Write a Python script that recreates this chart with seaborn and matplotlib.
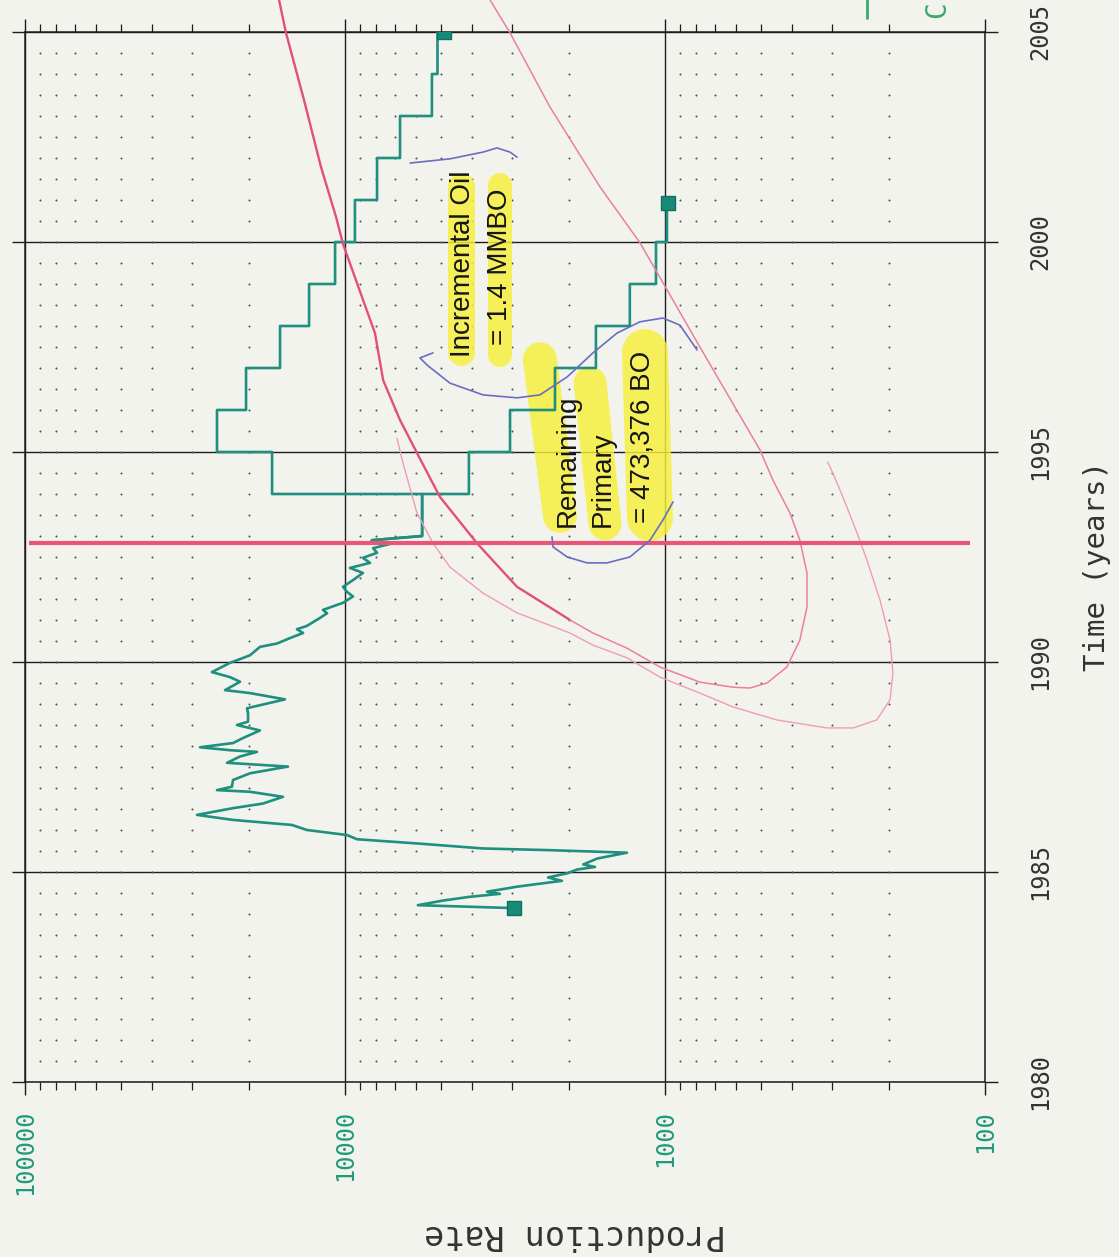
import numpy as np
import pandas as pd
import matplotlib
matplotlib.use("Agg")
import matplotlib.pyplot as plt
from matplotlib.lines import Line2D
from matplotlib.ticker import FixedLocator, NullFormatter
import seaborn as sns

# ---------------- data ----------------
# monthly oil production history (time in years, rate in BOPD)
hist_year = [1984.14, 1984.21, 1984.32, 1984.41, 1984.48, 1984.53, 1984.65, 1984.79,
             1984.87, 1984.97, 1985.06, 1985.12, 1985.18, 1985.32, 1985.46, 1985.52,
             1985.56, 1985.68, 1985.78, 1985.88, 1986.00, 1986.12, 1986.24, 1986.36,
             1986.52, 1986.63, 1986.79, 1986.91, 1986.95, 1987.03, 1987.19, 1987.35,
             1987.51, 1987.60, 1987.75, 1987.86, 1987.90, 1987.97, 1988.07, 1988.19,
             1988.37, 1988.50, 1988.58, 1988.77, 1988.90, 1989.11, 1989.26, 1989.33,
             1989.53, 1989.64, 1989.76, 1989.98, 1990.16, 1990.36, 1990.44, 1990.57,
             1990.69, 1990.78, 1990.86, 1991.05, 1991.16, 1991.24, 1991.41, 1991.56,
             1991.67, 1991.79, 1991.95, 1992.12, 1992.24, 1992.36, 1992.48, 1992.60,
             1992.71, 1992.81, 1992.90]
hist_rate = [2960, 5920, 4940, 4070, 3280, 3600, 2900, 2100,
             2320, 2020, 1880, 1655, 1800, 1630, 1315, 2290,
             3700, 5960, 9170, 9860, 13150, 14650, 22390, 29000,
             22390, 18040, 15620, 19810, 25120, 22560, 22390, 19810,
             15070, 23370, 21280, 18840, 22870, 28380, 22390, 20830,
             18440, 21760, 20090, 20090, 20230, 15400, 19810, 23710,
             21280, 22870, 26060, 22870, 19810, 18440, 16310, 14850,
             13520, 14130, 13150, 11970, 11380, 11720, 10140, 9440,
             9860, 10140, 9440, 8790, 9650, 8350, 8790, 7940,
             8170, 7240, 8240]

# annual forecast rates (waterflood case and primary case)
flood_years = [1993, 1994, 1995, 1996, 1997, 1998, 1999, 2000, 2001, 2002, 2003, 2004, 2005]
flood_rate = [5740, 16900, 25120, 20380, 15960, 12950, 10740, 9310, 7940, 6730, 5350, 5140]
primary_years = [1993, 1994, 1995, 1996, 1997, 1998, 1999, 2000, 2001]
primary_rate = [5740, 4100, 3050, 2207, 1644, 1288, 1067, 986]

# start / end markers
marker_year = [1984.14, 2005.0, 2000.93]
marker_rate = [2960, 4900, 980]

# hand-sketched decline curves
declA_main_year = [2005.76, 2004.98, 2003.38, 2001.79, 2000.60, 1999.95, 1999.02, 1997.83,
                   1996.71, 1995.76, 1994.98, 1993.93, 1992.83, 1991.79, 1991.00]
declA_main_rate = [16070, 15290, 13430, 11890, 10670, 10140, 9170, 8060,
                   7600, 6730, 5960, 5050, 3870, 2900, 1980]
declA_loop_year = [1991.00, 1990.69, 1990.33, 1989.88, 1989.52, 1989.40, 1989.38, 1989.50,
                   1989.88, 1990.52, 1991.31, 1992.12, 1992.90, 1993.55, 1994.33, 1995.05,
                   1997.50, 1999.98, 2001.31, 2003.21, 2004.98, 2005.76]
declA_loop_rate = [1980, 1679, 1315, 1037, 778, 613, 542, 480,
                   416, 379, 360, 360, 379, 407, 460, 505,
                   778, 1197, 1596, 2287, 3050, 3520]
declB_year = [1995.33, 1994.74, 1993.55, 1992.83, 1992.26, 1991.64, 1991.17, 1990.69,
              1990.40, 1990.10, 1989.64, 1989.26, 1988.93, 1988.62, 1988.43, 1988.43,
              1988.62, 1989.10, 1989.74, 1990.52, 1991.48, 1992.43, 1993.07, 1993.93,
              1994.50, 1994.76]
declB_rate = [6880, 6590, 5960, 5310, 4700, 3705, 2900, 1980,
              1679, 1315, 1037, 778, 613, 447, 312, 258,
              218, 198, 194, 198, 213, 234, 251, 278,
              299, 310]

# waterflood start date
flood_start = 1992.83
flood_line_rate = [97000, 111]

# pen marks around the notes
pen1_year = [2001.88, 2001.98, 2002.14, 2002.24, 2002.14, 2002.02]
pen1_rate = [6260, 4700, 3705, 3350, 3050, 2900]
pen2_year = [1997.36, 1997.24, 1997.07, 1996.64, 1996.36, 1996.29, 1996.36, 1996.79,
             1997.36, 1997.83, 1998.10, 1998.19, 1998.02, 1997.43]
pen2_rate = [5310, 5830, 5540, 4700, 3705, 2900, 2460, 2020,
             1679, 1413, 1197, 1015, 898, 794]
pen3_year = [1992.98, 1992.74, 1992.50, 1992.36, 1992.36, 1992.50, 1992.90, 1993.38, 1993.81]
pen3_rate = [2255, 2239, 2020, 1753, 1518, 1288, 1114, 1015, 944]

# highlighter strokes: (rate at start, year at start, rate at end, year at end, width px)
highlight_rate0 = [4325, 3280, 2460, 1715, 1155]
highlight_year0 = [1997.38, 1997.31, 1997.21, 1996.64, 1997.38]
highlight_rate1 = [4325, 3280, 2130, 1540, 1114]
highlight_year1 = [2001.33, 2001.36, 1993.48, 1993.29, 1993.43]
highlight_width = [27, 24, 34, 33, 46]

# notes: text, rate, year at the start of the text
note_text = ["Incremental Oil", "= 1.4 MMBO", "Remaining", "Primary", "= 473,376 BO"]
note_rate = [4280, 3280, 2010, 1563, 1172]
note_year = [1997.26, 1997.55, 1993.21, 1993.21, 1993.31]

rate_ticks = [100000, 10000, 1000, 100]
rate_tick_labels = ["100000", "10000", "1000", "100"]
year_ticks = [1980, 1985, 1990, 1995, 2000, 2005]
year_tick_labels = ["1980", "1985", "1990", "1995", "2000", "2005"]

# ---------------- style ----------------
PAPER = "#f3f3ee"
TEAL = "#1f8f7e"
PINK_DARK = "#e24f7b"
PINK_MID = "#ec7fa0"
PINK_LIGHT = "#f09cb6"
PEN = "#6b6dc2"
MONO = "DejaVu Sans Mono"

sns.set_theme(style="white")
plt.rcParams["font.family"] = ["DejaVu Sans", "DejaVu Sans Mono"]

fig = plt.figure(figsize=(11.19, 12.57), dpi=100, facecolor=PAPER)
ax = fig.add_axes([25 / 1119, 175 / 1257, 960 / 1119, 1050 / 1257])
ax.set_facecolor(PAPER)

ax.set_xscale("log")
ax.set_xlim(1e5, 1e2)
ax.set_ylim(1980, 2005)

# dotted background grid at minor rates and half years
minor_rates = [k * 10.0 ** e for e in (2, 3, 4) for k in range(2, 10)]
dot_years = np.arange(1980.5, 2005.0, 0.5)
gx, gy = np.meshgrid(minor_rates, dot_years)
ax.scatter(gx.ravel(), gy.ravel(), s=2.2, color="#555555", linewidths=0, zorder=1)

# major grid
ax.xaxis.set_major_locator(FixedLocator(rate_ticks))
ax.xaxis.set_minor_locator(FixedLocator(minor_rates))
ax.xaxis.set_minor_formatter(NullFormatter())
ax.set_xticklabels(rate_tick_labels)
ax.yaxis.set_major_locator(FixedLocator(year_ticks))
ax.set_yticklabels(year_tick_labels)
ax.grid(which="major", color="#1c1c1c", linewidth=1.0, zorder=0.5)
ax.grid(which="minor", visible=False)
ax.set_axisbelow(True)
for s in ax.spines.values():
    s.set_color("#1c1c1c")
    s.set_linewidth(1.1)

ax.tick_params(axis="x", which="major", direction="out", length=9.5, width=1.0,
               color="#1c1c1c", top=True, bottom=True, labeltop=False, labelbottom=True,
               labelrotation=90, labelsize=17, labelcolor="#1f9a7c", pad=10.5)
ax.tick_params(axis="x", which="minor", direction="out", length=5.5, width=0.9,
               color="#1c1c1c", top=True, bottom=True)
ax.tick_params(axis="y", which="major", direction="out", length=9.5, width=1.0,
               color="#1c1c1c", left=True, right=True, labelleft=False, labelright=True,
               labelrotation=90, labelsize=17, labelcolor="#333333", pad=21.5)
ax.tick_params(axis="y", which="minor", left=False, right=False)
for lab in ax.get_xticklabels():
    lab.set_family(MONO)
for lab in ax.get_yticklabels():
    lab.set_family(MONO)
    lab.set_va("center")

# highlighter strokes
for r0, y0, r1, y1, w in zip(highlight_rate0, highlight_year0, highlight_rate1,
                             highlight_year1, highlight_width):
    ax.plot([r0, r1], [y0, y1], color="#f6f03a", alpha=0.82, lw=w * 0.72,
            solid_capstyle="round", zorder=2)

# production history
hist = pd.DataFrame({"year": hist_year, "rate": hist_rate})
sns.lineplot(data=hist, x="rate", y="year", orient="y", sort=False, estimator=None,
             color=TEAL, lw=1.9, ax=ax, zorder=3)


def step_path(years, rates):
    """Annual step curve running along the time axis."""
    ys, rs = [hist_year[-1]], [hist_rate[-1]]
    for i, r in enumerate(rates):
        ys += [years[i], years[i + 1]]
        rs += [r, r]
    return pd.DataFrame({"year": ys, "rate": rs})


for yrs, rts in ((flood_years, flood_rate), (primary_years, primary_rate)):
    sns.lineplot(data=step_path(yrs, rts), x="rate", y="year", sort=False,
                 estimator=None, color=TEAL, lw=1.9, ax=ax, zorder=3)

ax.plot(marker_rate, marker_year, ls="none", marker="s", ms=10, color="#178a78",
        mec="#11705f", zorder=6)

# decline curves
ax.plot(declA_main_rate, declA_main_year, color=PINK_DARK, lw=1.7, zorder=3.5, clip_on=False)
ax.plot(declA_loop_rate, declA_loop_year, color=PINK_MID, lw=1.1, zorder=3.5, clip_on=False)
ax.plot(declB_rate, declB_year, color=PINK_LIGHT, lw=1.0, zorder=3.5, clip_on=False)

# waterflood start
ax.plot(flood_line_rate, [flood_start, flood_start], color="#ea5478", lw=3.0,
        solid_capstyle="butt", zorder=4)

# pen marks
for r, y in ((pen1_rate, pen1_year), (pen2_rate, pen2_year), (pen3_rate, pen3_year)):
    ax.plot(r, y, color=PEN, lw=1.2, zorder=4.5)

# notes
for t, r, y in zip(note_text, note_rate, note_year):
    ax.text(r, y, t, rotation=90, rotation_mode="anchor", ha="left", va="center",
            fontsize=20, family="Liberation Sans", color="#151515", zorder=5)

# axis titles
ax.set_xlabel("Production Rate", rotation=180, fontsize=24, family=MONO,
              color="#333333", va="center", ha="center")
ax.xaxis.set_label_coords(0.573, -0.145)
ax.yaxis.set_label_position("right")
ax.set_ylabel("Time (years)", rotation=90, fontsize=21, family=MONO,
              color="#333333", va="center", ha="center")
ax.yaxis.set_label_coords(1.1167, 0.491)

# legend entry at the top
fig.add_artist(Line2D([867 / 1119, 867 / 1119], [1 - 18 / 1257, 1.0],
                      color="#3aa86c", lw=2.0, transform=fig.transFigure))
fig.text(937 / 1119, 1 - 10 / 1257, "C", rotation=90, color="#3aa86c", fontsize=20,
         family=MONO, ha="center", va="center")

fig.savefig("out.png", dpi=100, facecolor=PAPER)
